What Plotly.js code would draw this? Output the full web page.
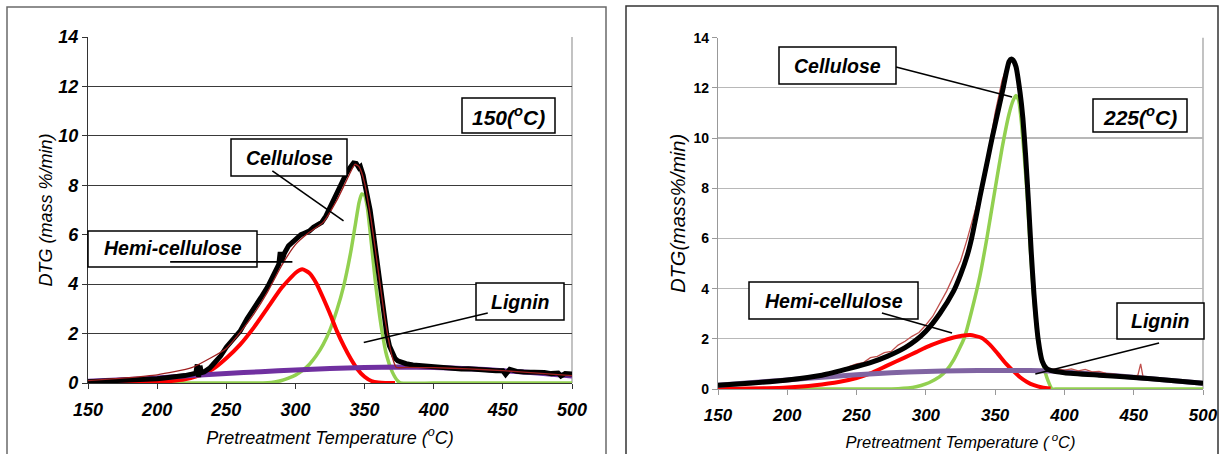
<!DOCTYPE html>
<html>
<head>
<meta charset="utf-8">
<script src="https://cdn.plot.ly/plotly-3.0.1.min.js"></script>
<style>html,body{margin:0;padding:0;background:#fff;}#chart{width:1220px;height:454px;}</style>
</head>
<body>
<div id="chart"></div>
<script>
// ---------- LEFT PANEL: pretreated at 150 °C ----------
const leftMeasuredT = [150,155,160,165,170,175,180,185,190,195,200,205,210,215,220,225,228,229,230,231,232,234,238,242,246,250,255,260,265,270,275,280,285,288,289,290,292,295,298,300,302,304,306,308,310,313,316,319,322,325,328,331,334,337,340,342,344,346,347,348,349,350,352,354,356,358,360,362,364,366,368,370,372,374,376,378,380,385,390,395,400,405,410,415,420,425,430,435,440,445,450,452,455,458,460,465,470,475,480,485,490,492,495,500];
const leftMeasured = [0.05,0.06,0.08,0.07,0.1,0.09,0.12,0.11,0.14,0.15,0.17,0.2,0.22,0.25,0.3,0.36,0.4,0.75,0.25,0.7,0.42,0.45,0.6,0.85,1.1,1.45,1.75,2.1,2.6,3.0,3.45,3.9,4.5,4.8,5.3,4.9,5.25,5.55,5.7,5.8,5.95,6.0,6.05,6.1,6.15,6.3,6.4,6.5,6.75,7.1,7.45,7.8,8.2,8.5,8.75,8.9,8.88,8.7,8.75,8.6,8.4,8.1,7.6,7.0,6.2,5.3,4.4,3.5,2.7,2.0,1.5,1.2,1.0,0.9,0.85,0.8,0.78,0.73,0.7,0.68,0.66,0.62,0.63,0.6,0.57,0.58,0.55,0.56,0.52,0.5,0.5,0.35,0.55,0.48,0.47,0.45,0.46,0.42,0.43,0.38,0.4,0.28,0.38,0.36];

const leftFitT = [150,175,200,225,250,260,270,280,290,300,310,320,330,340,343,346,350,355,360,365,370,373,380,400,425,450,475,500];
const leftFit = [0.1,0.2,0.33,0.62,1.4,2.05,2.8,3.7,4.75,5.6,6.1,6.5,7.4,8.55,8.85,8.75,8.1,6.5,4.5,2.5,1.05,0.63,0.63,0.62,0.57,0.5,0.4,0.3];

const leftHemiT = [150,180,200,210,220,230,240,250,260,270,280,290,300,305,310,315,320,325,330,335,340,345,350,355,360,365,372];
const leftHemi = [0,0.01,0.04,0.08,0.15,0.3,0.55,1.0,1.55,2.25,3.05,3.85,4.45,4.6,4.45,4.05,3.45,2.8,2.1,1.5,0.98,0.55,0.25,0.08,0.02,0,0];

const leftCellT = [150,200,250,270,280,285,290,295,300,305,310,315,320,325,330,335,340,343,346,348,350,352,355,358,362,366,370,374,376,400,450,500];
const leftCell = [0,0,0,0,0.01,0.04,0.1,0.2,0.32,0.5,0.75,1.1,1.55,2.15,2.95,3.95,5.3,6.3,7.3,7.65,7.6,7.1,5.6,4.0,2.3,1.1,0.45,0.08,0,0,0,0];

const leftLigT = [150,175,200,225,250,275,300,325,350,375,400,425,450,475,500];
const leftLig = [0.07,0.13,0.2,0.3,0.38,0.46,0.53,0.59,0.63,0.65,0.63,0.58,0.5,0.4,0.28];

// ---------- RIGHT PANEL: pretreated at 225 °C ----------
const rightMeasuredT = [150,175,200,215,225,235,240,245,250,255,260,265,270,275,280,285,290,295,300,305,310,315,320,325,330,335,340,345,350,355,360,362,365,370,375,380,385,390,395,400,405,410,415,420,425,430,440,450,453,455,457,460,470,480,490,500];
const rightMeasured = [0.15,0.24,0.37,0.45,0.58,0.7,0.75,0.9,1.0,1.05,1.25,1.3,1.45,1.5,1.75,1.9,2.1,2.25,2.55,2.9,3.4,3.9,4.5,5.1,6.0,7.0,8.0,9.4,11.0,12.3,13.1,13.2,12.9,10.8,6.0,2.2,0.95,0.78,0.8,0.75,0.8,0.72,0.78,0.68,0.7,0.62,0.57,0.5,0.55,1.0,0.4,0.45,0.38,0.33,0.28,0.22];

const rightFitT = [150,175,200,225,245,260,272,285,293,300,310,320,325,330,333,336,339,342,345,348,351,354,356,358,360,361.5,363,365,368,370,372,374,376,378,381,384,387,390,400,425,450,475,500];
const rightFit = [0.15,0.24,0.36,0.55,0.82,1.05,1.3,1.65,1.95,2.3,3.0,3.9,4.55,5.35,6.0,6.8,7.65,8.45,9.25,10.05,10.8,11.55,12.05,12.6,13.05,13.15,13.1,12.85,11.8,10.8,9.3,7.5,5.5,3.8,2.0,1.1,0.82,0.74,0.65,0.55,0.46,0.35,0.23];

const rightHemiT = [150,185,200,220,238,250,260,272,285,293,300,310,320,326,332,340,346,352,358,363,368,373,378,384,390];
const rightHemi = [0,0.03,0.06,0.15,0.29,0.44,0.62,0.93,1.26,1.47,1.66,1.88,2.05,2.12,2.15,2.04,1.78,1.4,1.0,0.72,0.47,0.28,0.15,0.06,0.02];

const rightCellT = [150,250,280,293,300,305,310,315,320,325,328,333,339,344,349,355,360,363,365,367,369,371,373,375,377.5,381,385,388,391,395,450,500];
const rightCell = [0,0,0.01,0.09,0.2,0.33,0.49,0.75,1.15,1.7,2.08,3.1,4.5,6.0,7.65,9.6,10.95,11.5,11.7,11.5,10.6,9.3,7.8,5.9,3.9,1.9,0.9,0.35,0,0,0,0];

const rightLigT = [150,175,200,225,250,275,300,325,350,375,390,425,450,475,500];
const rightLig = [0.15,0.26,0.36,0.47,0.57,0.65,0.7,0.73,0.74,0.74,0.72,0.58,0.47,0.35,0.23];

// ---------- text ----------
const xTitle = 'Pretreatment Temperature (<sup>o</sup>C)';
const xTitleRight = 'Pretreatment Temperature (<sup> o</sup>C)';
const yTitleLeft = 'DTG (mass %/min)';
const yTitleRight = 'DTG(mass%/min)';
const tempLabels = ['150(<sup>o</sup>C)', '225(<sup>o</sup>C)'];
const componentLabels = ['Cellulose', 'Hemi-cellulose', 'Lignin'];

const W = 1220, H = 454;
const px = v => v / W;
const py = v => 1 - v / H;

function tr(x, y, color, width, xa, ya) {
  return {x: x, y: y, type: 'scatter', mode: 'lines', xaxis: xa, yaxis: ya,
          line: {color: color, width: width, shape: 'spline', smoothing: 0.5}, hoverinfo: 'skip'};
}
function trRaw(x, y, color, width, xa, ya) {
  return {x: x, y: y, type: 'scatter', mode: 'lines', xaxis: xa, yaxis: ya,
          line: {color: color, width: width}, hoverinfo: 'skip'};
}

const traces = [
  tr(leftCellT, leftCell, '#92d050', 3.5, 'x', 'y'),
  tr(leftHemiT, leftHemi, '#ff0000', 4, 'x', 'y'),
  tr(leftLigT, leftLig, '#7030a0', 5, 'x', 'y'),
  trRaw(leftMeasuredT, leftMeasured, '#000000', 5, 'x', 'y'),
  tr(leftFitT, leftFit, '#a02020', 1.3, 'x', 'y'),

  tr(rightCellT, rightCell, '#92d050', 3.5, 'x2', 'y2'),
  tr(rightHemiT, rightHemi, '#ff0000', 4, 'x2', 'y2'),
  tr(rightLigT, rightLig, '#8064a2', 5, 'x2', 'y2'),
  trRaw(rightMeasuredT, rightMeasured, '#c0504d', 1.3, 'x2', 'y2'),
  tr(rightFitT, rightFit, '#000000', 5, 'x2', 'y2')
];

const FAM = 'Arial, Liberation Sans, sans-serif';
const tickFontL = {family: FAM, size: 18, weight: 'bold', style: 'italic', color: '#000'};
const tickFontR = {family: FAM, size: 17, weight: 'bold', style: 'italic', color: '#000'};
const boxFont = {family: FAM, size: 19.5, weight: 'bold', style: 'italic', color: '#000'};

function box(x0, y0, x1, y1) {
  return {type: 'rect', xref: 'paper', yref: 'paper', x0: px(x0), x1: px(x1), y0: py(y1), y1: py(y0),
          fillcolor: '#ffffff', line: {color: '#000', width: 1.5}, layer: 'above'};
}
function seg(xa, ya, x0, y0, x1, y1) {
  return {type: 'line', xref: xa, yref: ya, x0: x0, y0: y0, x1: x1, y1: y1,
          line: {color: '#000', width: 1.6}, layer: 'above'};
}
function label(text, x0, y0, x1, y1, size) {
  return {text: text, xref: 'paper', yref: 'paper', x: px((x0 + x1) / 2), y: py((y0 + y1) / 2),
          xanchor: 'center', yanchor: 'middle', showarrow: false,
          font: Object.assign({}, boxFont, {size: size || 19.5})};
}

const shapes = [
  // panel frames
  {type: 'rect', xref: 'paper', yref: 'paper', x0: px(7), x1: px(606), y0: -0.05, y1: py(7), line: {color: '#6a6a6a', width: 1.5}, layer: 'below'},
  {type: 'rect', xref: 'paper', yref: 'paper', x0: px(626), x1: px(1218), y0: -0.05, y1: py(6), line: {color: '#333', width: 1.5}, layer: 'below'},
  // right borders of plot areas
  {type: 'line', xref: 'x domain', yref: 'y domain', x0: 1, x1: 1, y0: 0, y1: 1, line: {color: '#9a9a9a', width: 1.2}, layer: 'below'},
  {type: 'line', xref: 'x2 domain', yref: 'y2 domain', x0: 1, x1: 1, y0: 0, y1: 1, line: {color: '#9a9a9a', width: 1.2}, layer: 'below'},
  // left boxes
  box(462, 98, 555, 133),
  box(231, 139, 347, 176),
  box(88, 231, 257, 267),
  box(476, 283, 564, 320),
  // right boxes
  box(1093, 99, 1187, 132),
  box(779, 47, 896, 84),
  box(749, 282, 918, 319),
  box(1117, 303, 1204, 339),
  // leader lines (left, data coordinates)
  seg('x', 'y', 283.3, 8.58, 334.8, 6.56),
  seg('x', 'y', 209.4, 4.90, 297.8, 4.90),
  seg('x', 'y', 439.1, 2.83, 349.4, 1.64),
  // leader lines (right)
  seg('x2', 'y2', 278.5, 12.83, 362.2, 11.64),
  seg('x2', 'y2', 268.3, 3.03, 318.9, 2.23),
  seg('x2', 'y2', 468.3, 1.83, 379.0, 0.60)
];

const annotations = [
  label(tempLabels[0], 462, 98, 555, 133, 21),
  label(componentLabels[0], 231, 139, 347, 176),
  label(componentLabels[1], 88, 231, 257, 265),
  label(componentLabels[2], 476, 283, 564, 320),
  label(tempLabels[1], 1093, 99, 1187, 132, 21),
  label(componentLabels[0], 779, 47, 896, 84),
  label(componentLabels[1], 749, 282, 918, 319),
  label(componentLabels[2], 1117, 303, 1204, 339)
];

const layout = {
  width: W, height: H,
  margin: {l: 0, r: 0, t: 0, b: 0},
  paper_bgcolor: '#ffffff', plot_bgcolor: '#ffffff',
  showlegend: false,
  xaxis: {
    domain: [px(88), px(572)], anchor: 'y', range: [150, 500], tick0: 150, dtick: 50,
    showgrid: false, zeroline: false, showline: true, linecolor: '#333', linewidth: 1.2,
    ticks: 'outside', ticklen: 5, tickcolor: '#333', tickfont: tickFontL, ticklabelstandoff: 5,
    title: {text: xTitle, font: {family: FAM, size: 18, style: 'italic', color: '#000'}, standoff: 12}
  },
  yaxis: {
    domain: [py(383), py(37)], anchor: 'x', range: [0, 14], dtick: 2,
    showgrid: true, gridcolor: '#3a3a3a', gridwidth: 1, zeroline: false,
    showline: true, linecolor: '#333', linewidth: 1.2,
    ticks: 'outside', ticklen: 5, tickcolor: '#333', tickfont: tickFontL,
    title: {text: yTitleLeft, font: {family: FAM, size: 18, style: 'italic', color: '#000'}, standoff: 0}
  },
  xaxis2: {
    domain: [px(718), px(1203)], anchor: 'y2', range: [150, 500], tick0: 150, dtick: 50,
    showgrid: false, zeroline: false, showline: true, linecolor: '#999', linewidth: 1.2,
    ticks: 'outside', ticklen: 5, tickcolor: '#999', tickfont: tickFontR, ticklabelstandoff: 5,
    title: {text: xTitleRight, font: {family: FAM, size: 16.5, style: 'italic', color: '#000'}, standoff: 12}
  },
  yaxis2: {
    domain: [py(389), py(37.7)], anchor: 'x2', range: [0, 14], dtick: 2,
    showgrid: true, gridcolor: '#b8b8b8', gridwidth: 1.2, zeroline: false,
    showline: true, linecolor: '#999', linewidth: 1.2,
    ticks: 'outside', ticklen: 5, tickcolor: '#999',
    tickfont: {family: 'Liberation Sans, Arial, sans-serif', size: 14, weight: 'bold', color: '#000'},
    title: {text: yTitleRight, font: {family: FAM, size: 20, style: 'italic', color: '#000'}, standoff: 2}
  },
  shapes: shapes,
  annotations: annotations
};

Plotly.newPlot('chart', traces, layout, {staticPlot: true, displayModeBar: false});
</script>
</body>
</html>
